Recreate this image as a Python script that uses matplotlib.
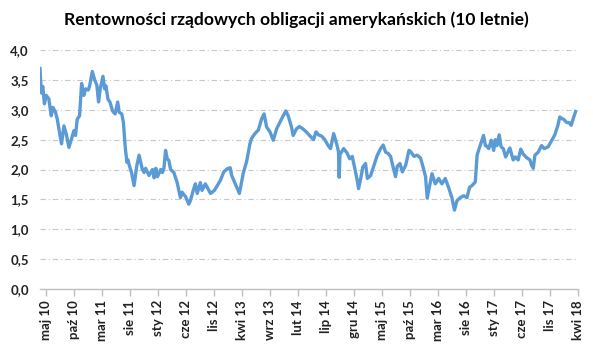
import matplotlib
matplotlib.use("Agg")
import matplotlib.pyplot as plt
import pandas as pd

title = "Rentowności rządowych obligacji amerykańskich (10 letnie)"

dates = [
    "2010-05-03", "2010-05-07", "2010-05-11", "2010-05-18", "2010-05-27", "2010-06-06", "2010-06-20",
    "2010-07-03", "2010-07-12", "2010-07-26", "2010-08-05", "2010-08-17", "2010-08-28", "2010-09-10",
    "2010-09-23", "2010-10-07", "2010-10-21", "2010-11-03", "2010-11-12", "2010-11-21", "2010-12-04",
    "2010-12-15", "2010-12-27",
    "2011-01-06", "2011-01-20", "2011-01-27", "2011-02-11", "2011-02-24", "2011-03-08", "2011-03-17",
    "2011-03-26", "2011-04-10", "2011-04-19", "2011-04-26", "2011-05-07", "2011-05-19", "2011-06-01",
    "2011-06-15", "2011-06-29", "2011-07-07", "2011-07-21", "2011-07-30", "2011-08-09", "2011-08-18",
    "2011-08-24", "2011-08-30", "2011-09-12", "2011-09-26", "2011-10-10", "2011-10-23", "2011-11-10",
    "2011-11-19", "2011-11-28", "2011-12-16",
    "2012-01-04", "2012-01-13", "2012-01-22", "2012-01-31", "2012-02-18", "2012-02-27", "2012-03-06",
    "2012-03-15", "2012-03-24", "2012-04-02", "2012-04-11", "2012-04-29", "2012-05-17", "2012-05-26",
    "2012-06-04", "2012-06-13", "2012-06-22", "2012-07-01", "2012-07-19", "2012-07-28", "2012-08-15",
    "2012-08-24", "2012-09-03", "2012-09-20", "2012-09-29", "2012-10-17", "2012-11-05", "2012-11-14",
    "2012-11-23", "2012-12-05", "2012-12-19",
    "2013-01-07", "2013-01-25", "2013-02-12", "2013-03-01", "2013-03-09", "2013-03-27", "2013-04-20",
    "2013-05-11", "2013-05-29", "2013-06-16", "2013-06-25", "2013-07-13", "2013-08-01", "2013-08-19",
    "2013-09-01", "2013-09-15", "2013-10-03", "2013-10-21", "2013-11-08", "2013-11-26", "2013-12-14",
    "2013-12-28",
    "2014-01-10", "2014-01-28", "2014-02-06", "2014-02-24", "2014-03-12", "2014-03-31", "2014-04-18",
    "2014-05-06", "2014-05-28", "2014-06-10", "2014-06-24", "2014-07-10", "2014-07-28", "2014-08-15",
    "2014-08-28", "2014-09-14", "2014-10-01", "2014-10-10", "2014-10-14", "2014-10-18", "2014-11-07",
    "2014-11-25", "2014-12-10", "2014-12-24",
    "2015-01-08", "2015-01-20", "2015-01-27", "2015-02-08", "2015-02-19", "2015-03-06", "2015-03-16",
    "2015-04-03", "2015-04-21", "2015-05-09", "2015-05-27", "2015-06-10", "2015-06-23", "2015-07-06",
    "2015-07-20", "2015-07-29", "2015-08-16", "2015-08-25", "2015-09-09", "2015-09-22", "2015-10-10",
    "2015-10-28", "2015-11-06", "2015-11-24", "2015-12-12", "2015-12-30",
    "2016-01-17", "2016-01-26", "2016-02-04", "2016-02-19", "2016-03-01", "2016-03-19", "2016-04-06",
    "2016-04-24", "2016-05-12", "2016-05-30", "2016-06-17", "2016-07-01", "2016-07-15", "2016-08-02",
    "2016-08-20", "2016-09-07", "2016-09-21", "2016-10-04", "2016-10-22", "2016-11-01", "2016-11-10",
    "2016-11-28", "2016-12-06", "2016-12-16", "2016-12-24",
    "2017-01-03", "2017-01-17", "2017-01-30", "2017-02-08", "2017-02-17", "2017-03-01", "2017-03-11",
    "2017-03-23", "2017-04-05", "2017-04-19", "2017-04-28", "2017-05-16", "2017-05-28", "2017-06-12",
    "2017-06-26", "2017-07-09", "2017-07-27", "2017-08-15", "2017-08-24", "2017-09-02", "2017-09-11",
    "2017-09-29", "2017-10-17", "2017-11-01", "2017-11-22", "2017-12-10", "2017-12-28",
    "2018-01-13", "2018-01-24", "2018-02-05", "2018-02-15", "2018-03-01", "2018-03-18", "2018-03-27",
    "2018-04-10", "2018-04-20",
]

yields = [
    3.69, 3.45, 3.28, 3.39, 3.10, 3.24, 3.18,
    2.90, 3.04, 2.96, 2.84, 2.62, 2.43, 2.73,
    2.59, 2.37, 2.51, 2.65, 2.57, 2.84, 2.90,
    3.44, 3.24,
    3.35, 3.33, 3.39, 3.64, 3.50, 3.41, 3.13,
    3.35, 3.56, 3.35, 3.40, 3.18, 3.12, 2.98,
    2.93, 3.13, 2.96, 2.93, 2.79, 2.37, 2.12,
    2.16, 2.08, 1.95, 1.73, 2.05, 2.24, 2.00,
    1.95, 2.02, 1.90,
    2.00, 1.86, 2.02, 1.88, 2.00, 1.95, 2.02,
    2.32, 2.18, 2.15, 2.00, 1.95, 1.78, 1.65,
    1.53, 1.62, 1.58, 1.55, 1.42, 1.48, 1.68,
    1.76, 1.60, 1.78, 1.65, 1.76, 1.65, 1.60,
    1.62, 1.65, 1.72,
    1.82, 1.96, 2.01, 2.03, 1.90, 1.77, 1.60,
    1.94, 2.13, 2.43, 2.52, 2.60, 2.66, 2.85,
    2.93, 2.71, 2.63, 2.49, 2.68, 2.79, 2.90,
    2.98,
    2.90, 2.71, 2.57, 2.68, 2.72, 2.68, 2.63,
    2.57, 2.50, 2.63, 2.58, 2.56, 2.50, 2.40,
    2.35, 2.60, 2.42, 2.30, 1.87, 2.25, 2.35,
    2.28, 2.18, 2.22,
    2.00, 1.82, 1.68, 1.85, 2.04, 2.10, 1.85,
    1.90, 2.07, 2.24, 2.35, 2.41, 2.29, 2.27,
    2.22, 2.10, 1.88, 2.05, 2.10, 1.96, 2.07,
    2.32, 2.30, 2.22, 2.24, 2.19,
    1.99, 1.88, 1.52, 1.76, 1.93, 1.76, 1.85,
    1.76, 1.85, 1.70, 1.53, 1.32, 1.48, 1.53,
    1.56, 1.53, 1.70, 1.73, 1.79, 2.24, 2.33,
    2.50, 2.57, 2.40, 2.39,
    2.35, 2.49, 2.32, 2.50, 2.40, 2.58, 2.38,
    2.35, 2.21, 2.30, 2.36, 2.16, 2.21, 2.16,
    2.34, 2.26, 2.20, 2.16, 2.07, 2.02, 2.24,
    2.29, 2.40, 2.35, 2.38, 2.48, 2.58,
    2.73, 2.88, 2.85, 2.84, 2.79, 2.78, 2.74,
    2.88, 2.97,
]

tick_labels = ["maj 10", "paź 10", "mar 11", "sie 11", "sty 12", "cze 12", "lis 12",
               "kwi 13", "wrz 13", "lut 14", "lip 14", "gru 14", "maj 15", "paź 15",
               "mar 16", "sie 16", "sty 17", "cze 17", "lis 17", "kwi 18"]
y_ticks = [0.0, 0.5, 1.0, 1.5, 2.0, 2.5, 3.0, 3.5, 4.0]

plt.rcParams['font.family'] = ['Lato', 'DejaVu Sans']

x = pd.to_datetime(dates)
tick_pos = pd.date_range("2010-05-03", periods=len(tick_labels), freq="5MS") + pd.Timedelta(days=2)

fig = plt.figure(figsize=(5.93, 3.54), dpi=100)
ax = fig.add_axes([40/593, 1-289/354, 538/593, 239/354])

ax.plot(x, yields, color="#5B9BD5", linewidth=2.4, solid_joinstyle="round", zorder=3)

ax.set_ylim(0, 4)
ax.set_xlim(pd.Timestamp("2010-05-03"), pd.Timestamp("2018-04-21"))
ax.set_yticks(y_ticks)
ax.set_yticklabels([f"{v:.1f}".replace(".", ",") for v in y_ticks],
                   fontsize=9.5, fontweight="bold", color="#222222")
ax.set_xticks(tick_pos)
ax.set_xticklabels(tick_labels, rotation=90, fontsize=9.5, fontweight="bold", color="#222222")

ax.grid(axis="y", color="#c8c8c8", linestyle=(0, (5, 2.5, 1, 2.5)), linewidth=0.8, zorder=0)
for s in ["top", "right", "left"]:
    ax.spines[s].set_visible(False)
ax.spines["bottom"].set_color("#bfbfbf")
ax.spines["bottom"].set_linewidth(1.0)
ax.tick_params(axis="y", length=0, pad=8)
ax.tick_params(axis="x", length=5, width=1.0, color="#bfbfbf", pad=3)

fig.text(0.5, 1-20/354, title, ha="center", va="center", fontsize=12.6, fontweight="bold", color="#000000")

fig.savefig("out.png", dpi=100)
